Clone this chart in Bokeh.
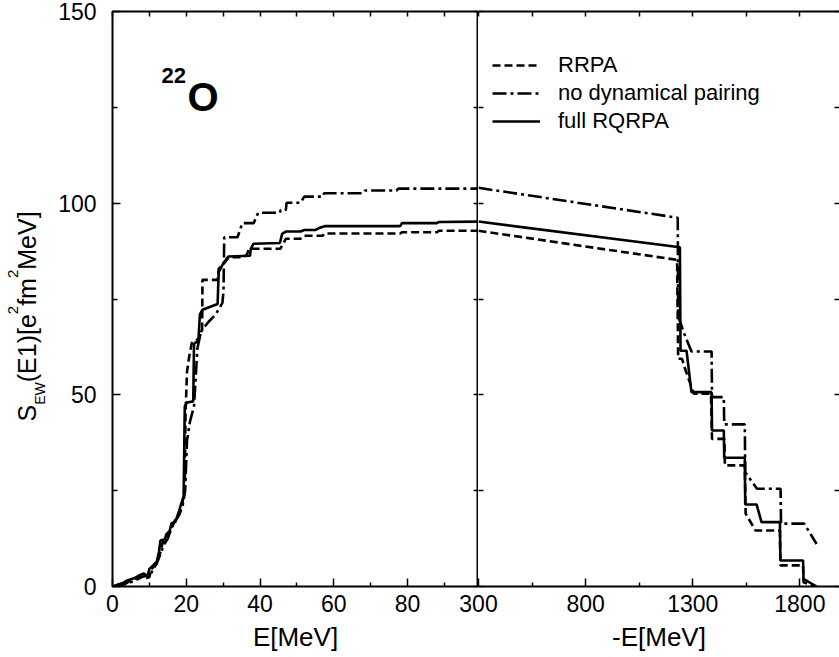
import math
from bokeh.plotting import figure
from bokeh.models import Range1d, FixedTicker, LinearAxis, Legend, LegendItem, Label
from bokeh.layouts import row
from bokeh.embed import file_html
from bokeh.resources import INLINE

# ---------------- data ----------------
series_names = ["RRPA", "no dynamical pairing", "full RQRPA"]

# left panel: E [MeV]
rrpa_E_low = [0, 2, 4, 5, 7, 8, 9, 10, 10.5, 12, 13, 13.6, 15, 16, 17, 18.2, 19, 19.6, 19.8, 20.2,
              20.8, 21.5, 23.3, 24.3, 24.4, 28.5, 28.8, 30, 31.5, 35.5, 36.5, 37, 45.5, 46.5, 47, 51,
              52, 57, 57.5, 78, 78.5, 88, 88.5, 100]
rrpa_S_low = [0, 0.3, 1.0, 1.8, 2.2, 2.6, 2.2, 2.4, 4.5, 6.0, 9.0, 11.5, 13.0, 15.0, 17.5, 19.0, 22.0,
              26.0, 45.0, 56.0, 60.0, 63.5, 64.6, 66.5, 80.0, 80.0, 82.9, 84.0, 85.9, 85.9, 86.7, 88.1,
              88.1, 89.8, 90.7, 90.7, 91.5, 91.5, 92.1, 92.1, 92.4, 92.4, 92.8, 92.8]

nodyn_E_low = [0, 2, 4, 6, 8, 9, 10, 11, 12, 13, 14, 15, 16, 17, 18, 19, 19.7, 20.2, 21, 22.1, 22.6,
               23, 24, 26, 28, 29.8, 30.1, 30.3, 33.9, 35.2, 38.3, 39.5, 45.4, 45.6, 47, 47.2, 51, 52,
               57, 57.4, 68, 68.5, 77, 77.5, 100]
nodyn_S_low = [0, 0.2, 0.8, 1.5, 2.5, 2.8, 2.5, 4.5, 6.0, 8.5, 11.0, 12.5, 15.5, 17.0, 18.5, 21.0,
               25.0, 38.0, 43.0, 47.0, 55.0, 62.0, 66.5, 69.0, 71.0, 74.0, 77.0, 91.1, 91.1, 94.8,
               94.8, 97.5, 97.5, 98.2, 98.2, 100.1, 100.1, 101.7, 101.7, 102.6, 102.6, 103.3, 103.3,
               103.8, 103.8]

full_E_low = [0, 1.5, 3, 4, 6, 7.5, 8.5, 9, 9.6, 10, 11, 12, 12.6, 13, 14.2, 14.6, 15.5, 16, 17, 18,
              18.6, 19.3, 19.5, 19.6, 20.2, 21.9, 22.1, 23.3, 23.7, 24.4, 28.5, 28.8, 30, 31.4, 37.3,
              37.5, 38.2, 45.4, 46, 47, 51, 52, 55, 56, 57.5, 78, 78.5, 88, 88.5, 100]
full_S_low = [0, 0.5, 1.0, 1.6, 2.2, 3.0, 3.4, 3.0, 3.0, 4.6, 5.5, 6.5, 9.0, 12.0, 12.3, 13.6, 14.5,
              16.5, 16.8, 19.5, 21.5, 23.5, 40.0, 47.0, 48.0, 48.3, 63.3, 64.2, 71.0, 72.2, 73.7,
              82.0, 84.2, 86.1, 86.3, 88.1, 89.4, 89.6, 92.0, 92.6, 92.6, 93.0, 93.0, 93.5, 94.0,
              94.0, 94.8, 94.8, 95.1, 95.2]

# right panel: -E [MeV]
rrpa_E_high = [300, 1227, 1232, 1250, 1263, 1305, 1385, 1390, 1448, 1450, 1543, 1547, 1593, 1707,
               1709, 1815, 1817, 1870]
rrpa_S_high = [92.8, 85.2, 59.4, 59.4, 57.0, 50.3, 50.3, 38.5, 38.5, 31.6, 31.6, 19.0, 14.6, 14.6,
               5.5, 5.5, 1.1, 0.0]

nodyn_E_high = [300, 1230, 1232, 1260, 1294, 1388, 1390, 1445, 1447, 1543, 1545, 1600, 1710, 1712,
                1820, 1878]
nodyn_S_high = [104.0, 96.2, 70.5, 66.0, 61.3, 61.3, 49.4, 49.4, 42.3, 42.3, 29.8, 25.5, 25.5, 16.4,
                16.4, 11.1]

full_E_high = [300, 1240, 1243, 1271, 1294, 1388, 1390, 1445, 1447, 1543, 1545, 1598, 1621, 1707,
               1709, 1815, 1817, 1878]
full_S_high = [95.2, 88.5, 61.5, 61.5, 50.7, 50.7, 40.7, 40.7, 33.6, 33.6, 21.4, 21.4, 16.8, 16.8,
               6.8, 6.8, 2.0, 0.0]

x_ticks_low = [0, 20, 40, 60, 80]
x_minor_low = [10, 30, 50, 70, 90]
x_ticks_high = [300, 800, 1300, 1800]
x_minor_high = [550, 1050, 1550]
y_ticks = [0, 50, 100, 150]
y_minor = [25, 75, 125]

# ---------------- styling ----------------
FONT = "Liberation Sans"
DASH = {"RRPA": "8 4", "no dynamical pairing": "14 4 3 4", "full RQRPA": "solid"}
LW = 2.6
H = 657
FRAME_H = 575
TOP, BOTTOM = 11, 71
LABEL_W = 55
LEFT_FRAME_W, RIGHT_FRAME_W = 366, 361
LEFT_BORDER = 112 - LABEL_W
OVERLAP = 25
XLOW_END, XHIGH_END = 99.25, 1985


def style_axis(ax, ticks, minor, labels=True, tick_in=8, minor_in=4, line=False):
    ax.ticker = FixedTicker(ticks=ticks, minor_ticks=minor)
    ax.major_tick_in = tick_in
    ax.major_tick_out = 0
    ax.minor_tick_in = minor_in
    ax.minor_tick_out = 0
    ax.major_tick_line_color = "black"
    ax.minor_tick_line_color = "black"
    ax.major_tick_line_width = 1.5
    ax.minor_tick_line_width = 1.5
    ax.axis_line_color = "black" if line else None
    ax.axis_line_width = 2
    if labels:
        ax.major_label_text_font = FONT
        ax.major_label_text_font_size = "23px"
        ax.major_label_text_color = "black"
    else:
        ax.major_label_text_font_size = "0px"
        ax.major_label_text_color = None
        ax.major_label_standoff = 0


def base_fig(xr, frame_w, border_left):
    p = figure(frame_width=frame_w, frame_height=FRAME_H, x_range=xr, y_range=Range1d(0, 150),
               output_backend="svg", toolbar_location=None,
               min_border_left=border_left, min_border_right=0,
               min_border_top=TOP, min_border_bottom=BOTTOM)
    p.xgrid.grid_line_color = None
    p.ygrid.grid_line_color = None
    p.background_fill_color = "white"
    return p


# ---------------- y-axis title strip ----------------
ylab = figure(frame_width=LABEL_W, frame_height=H, x_range=Range1d(0, LABEL_W),
              y_range=Range1d(0, H), output_backend="svg", toolbar_location=None,
              min_border_left=0, min_border_right=0, min_border_top=0, min_border_bottom=0,
              x_axis_location=None, y_axis_location=None, title=None)
ylab.outline_line_color = None
ylab.xgrid.visible = False
ylab.ygrid.visible = False

WID = {"S": 0.667, "E": 0.667, "W": 0.944, "(": 0.333, "1": 0.556, ")": 0.333, "[": 0.278,
       "e": 0.556, "2": 0.556, "f": 0.278, "m": 0.833, "M": 0.833, "V": 0.667, "]": 0.278}
# (text, font px, centre line x in px)
pieces = [("S", 25, 26.5), ("EW", 14, 39.0), ("(E1)[e", 25, 26.5), ("2", 15, 12.5),
          ("fm", 25, 26.5), ("2", 15, 12.5), ("MeV]", 25, 26.5)]
y_px = 410.0
for txt, size, cx in pieces:
    ylab.add_layout(Label(x=cx, y=H - y_px, text=txt, angle=math.pi / 2, text_font=FONT,
                          text_font_size=f"{size}px", text_align="left",
                          text_baseline="middle", text_color="black"))
    y_px -= sum(WID[c] for c in txt) * size

# ---------------- left panel ----------------
left = base_fig(Range1d(0, XLOW_END), LEFT_FRAME_W, LEFT_BORDER)
left.outline_line_color = "black"
left.outline_line_width = 2

xa = left.xaxis[0]
style_axis(xa, x_ticks_low, x_minor_low)
xa.major_label_standoff = 8
xa.axis_label = "E[MeV]"
xa.axis_label_text_font = FONT
xa.axis_label_text_font_size = "26px"
xa.axis_label_text_font_style = "normal"
xa.axis_label_text_color = "black"
xa.axis_label_standoff = 7

ya = left.yaxis[0]
style_axis(ya, y_ticks, y_minor, tick_in=8, minor_in=5)
ya.major_label_standoff = 16

top_l = LinearAxis()
style_axis(top_l, x_ticks_low, x_minor_low, labels=False, tick_in=5, minor_in=5)
left.add_layout(top_l, "above")
right_l = LinearAxis()
style_axis(right_l, y_ticks, y_minor, labels=False, tick_in=5, minor_in=5)
left.add_layout(right_l, "right")

left.line(rrpa_E_low, rrpa_S_low, line_color="black", line_width=LW, line_dash=DASH["RRPA"])
left.line(nodyn_E_low, nodyn_S_low, line_color="black", line_width=LW,
          line_dash=DASH["no dynamical pairing"])
left.line(full_E_low, full_S_low, line_color="black", line_width=LW, line_dash=DASH["full RQRPA"])

# nucleus label 22O (page px converted to data)
px_x = LEFT_FRAME_W / XLOW_END
px_y = FRAME_H / 150.0
page_frame_left = 112
frame_bottom = TOP + FRAME_H
left.add_layout(Label(x=(161 - page_frame_left) / px_x, y=(frame_bottom - 75) / px_y, text="22",
                      text_font=FONT, text_font_size="22px", text_font_style="bold",
                      text_baseline="middle", text_color="black"))
left.add_layout(Label(x=(187 - page_frame_left) / px_x, y=(frame_bottom - 96) / px_y, text="O",
                      text_font=FONT, text_font_size="40px", text_font_style="bold",
                      text_baseline="middle", text_color="black"))

# ---------------- right panel ----------------
right = base_fig(Range1d(300, XHIGH_END), RIGHT_FRAME_W, OVERLAP)
right.outline_line_color = None
right.border_fill_color = None
right.margin = (0, 0, 0, -OVERLAP)

xb = right.xaxis[0]
style_axis(xb, x_ticks_high, x_minor_high, line=True)
xb.major_label_standoff = 8
xb.axis_label = "-E[MeV]"
xb.axis_label_text_font = FONT
xb.axis_label_text_font_size = "26px"
xb.axis_label_text_font_style = "normal"
xb.axis_label_text_color = "black"
xb.axis_label_standoff = 7

yb = right.yaxis[0]
style_axis(yb, y_ticks, y_minor, labels=False, tick_in=5, minor_in=5)

top_r = LinearAxis()
style_axis(top_r, x_ticks_high, x_minor_high, labels=False, tick_in=5, minor_in=5, line=True)
right.add_layout(top_r, "above")
right_r = LinearAxis()
style_axis(right_r, y_ticks, y_minor, labels=False, tick_in=5, minor_in=5)
right.add_layout(right_r, "right")

r_rrpa = right.line(rrpa_E_high, rrpa_S_high, line_color="black", line_width=LW,
                    line_dash=DASH["RRPA"])
r_nodyn = right.line(nodyn_E_high, nodyn_S_high, line_color="black", line_width=LW,
                     line_dash=DASH["no dynamical pairing"])
r_full = right.line(full_E_high, full_S_high, line_color="black", line_width=LW,
                    line_dash=DASH["full RQRPA"])

legend = Legend(items=[LegendItem(label=series_names[0], renderers=[r_rrpa]),
                       LegendItem(label=series_names[1], renderers=[r_nodyn]),
                       LegendItem(label=series_names[2], renderers=[r_full])],
                location=(14, 451), glyph_width=48, glyph_height=28, label_height=28,
                spacing=0, padding=0, margin=0, label_standoff=18,
                label_text_font=FONT, label_text_font_size="22px", label_text_color="black",
                border_line_color=None, background_fill_alpha=0)
right.add_layout(legend)

layout = row(ylab, left, right)
open("out.html", "w").write(file_html(layout, INLINE))
